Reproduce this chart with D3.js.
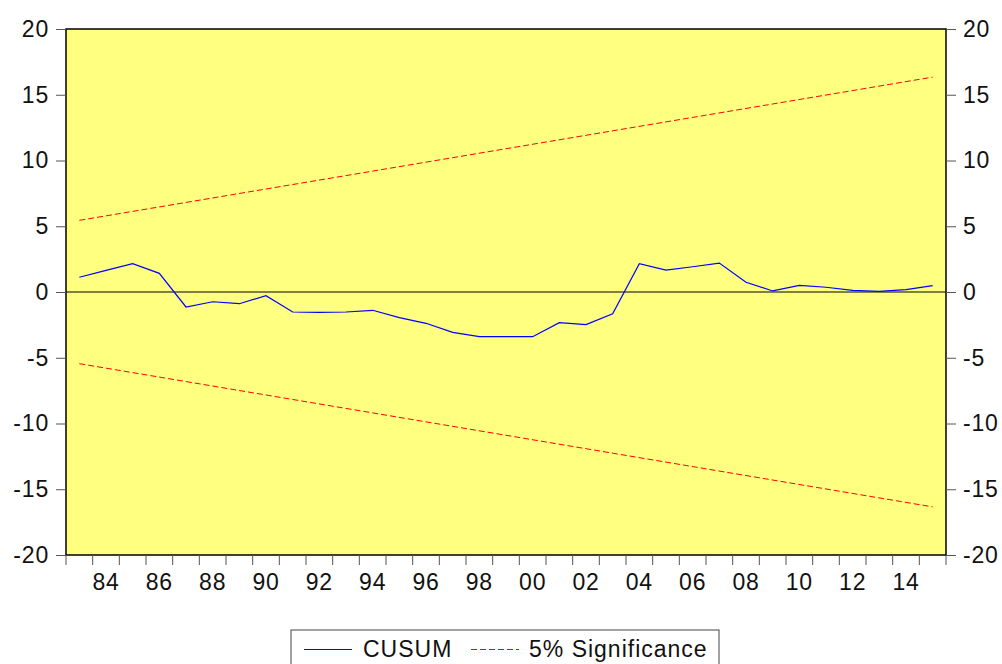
<!DOCTYPE html>
<html>
<head>
<meta charset="utf-8">
<script src="https://cdn.jsdelivr.net/npm/d3@7"></script>
<style>
  body { margin: 0; background: #fff; }
  svg { display: block; font-family: "Liberation Sans", Arial, sans-serif; }
</style>
</head>
<body>
<div class="box"></div>
<script>
// years 1983..2015, one cusum value each
let years = d3.range(1983, 2016)
let cusum = [1.12, 1.65, 2.15, 1.42, -1.14, -0.74, -0.89, -0.28, -1.52, -1.55,
  -1.52, -1.39, -1.95, -2.38, -3.07, -3.40, -3.40, -3.40, -2.33, -2.48,
  -1.65, 2.15, 1.67, 1.92, 2.20, 0.74, 0.08, 0.50, 0.36, 0.13,
  0.05, 0.18, 0.48]
// 5% bounds are straight lines, start and end
let sigYears = [1983, 2015]
let sigUpper = [5.45, 16.34]
let sigLower = [-5.45, -16.34]
let yTicks = [-20, -15, -10, -5, 0, 5, 10, 15, 20]
let labelYears = d3.range(1984, 2015, 2)

let W = 1002, H = 664
let pl = 66, pr = 946, pt = 29, pb = 555
let fs = '23px', ls = '0.8px'

let svg = d3.select('.box').append('svg')
  .attr('width', W).attr('height', H)

let x = d3.scaleBand().domain(years).range([pl, pr]).padding(0)
let xc = (yr) => x(yr) + x.bandwidth() / 2
let y = d3.scaleLinear().domain([-20, 20]).range([pb, pt])

svg.append('rect')
  .attr('x', pl).attr('y', pt)
  .attr('width', pr - pl).attr('height', pb - pt)
  .style('fill', '#ffff80')

// zero line
svg.append('line')
  .attr('x1', pl).attr('x2', pr)
  .attr('y1', y(0)).attr('y2', y(0))
  .style('stroke', '#000').style('stroke-width', 1)

let mline = d3.line().x((d) => xc(d[0])).y((d) => y(d[1]))
;[sigUpper, sigLower].forEach((s) => {
  svg.append('path')
    .datum(sigYears.map((yr, i) => [yr, s[i]]))
    .attr('d', mline)
    .style('fill', 'none')
    .style('stroke', '#ff0000')
    .style('stroke-width', 1)
    .style('stroke-dasharray', '6,3')
})

svg.append('path')
  .datum(years.map((yr, i) => [yr, cusum[i]]))
  .attr('d', mline)
  .style('fill', 'none')
  .style('stroke', '#0000ff')
  .style('stroke-width', 1.2)

svg.append('rect')
  .attr('x', pl).attr('y', pt)
  .attr('width', pr - pl).attr('height', pb - pt)
  .style('fill', 'none').style('stroke', '#000').style('stroke-width', 1.5)

// axes, plain hyphen for negatives
let fmt = (d) => String(d)
let ax1 = svg.append('g').attr('transform', `translate(${pl},0)`)
  .call(d3.axisLeft(y).tickValues(yTicks).tickSize(10).tickPadding(7).tickFormat(fmt))
let ax2 = svg.append('g').attr('transform', `translate(${pr},0)`)
  .call(d3.axisRight(y).tickValues(yTicks).tickSize(10).tickPadding(7).tickFormat(fmt))

let bounds = years.map((yr) => x(yr)).concat([pr])
let ax3 = svg.append('g').attr('transform', `translate(0,${pb})`)
ax3.selectAll('line').data(bounds).enter().append('line')
  .attr('x1', (d) => d).attr('x2', (d) => d)
  .attr('y1', 0).attr('y2', 10)
  .style('stroke', '#555')
ax3.selectAll('text').data(labelYears).enter().append('text')
  .attr('x', (d) => xc(d)).attr('y', 35)
  .attr('text-anchor', 'middle')
  .style('font-size', fs).style('letter-spacing', ls).style('fill', '#111')
  .text((d) => String(d % 100).padStart(2, '0'))

;[ax1, ax2].forEach((a) => {
  a.select('.domain').remove()
  a.selectAll('.tick line').style('stroke', '#555')
  a.selectAll('.tick text').style('font-size', fs).style('letter-spacing', ls)
    .style('fill', '#111')
    .style('font-family', '"Liberation Sans", Arial, sans-serif')
})

// legend
let lg = svg.append('g')
lg.append('rect').attr('x', 291).attr('y', 630).attr('width', 428).attr('height', 40)
  .style('fill', '#fff').style('stroke', '#444').style('stroke-width', 1)
lg.append('line').attr('x1', 304).attr('x2', 352).attr('y1', 649.5).attr('y2', 649.5)
  .style('stroke', '#0000ff').style('stroke-width', 1.2)
lg.append('text').attr('x', 363).attr('y', 657).text('CUSUM')
  .style('font-size', fs).style('letter-spacing', '1px').style('fill', '#111')
lg.append('line').attr('x1', 471).attr('x2', 519).attr('y1', 649.5).attr('y2', 649.5)
  .style('stroke', '#ff0000').style('stroke-width', 1).style('stroke-dasharray', '6,3')
lg.append('text').attr('x', 529).attr('y', 657).text('5% Significance')
  .style('font-size', fs).style('letter-spacing', '1px').style('fill', '#111')
</script>
</body>
</html>
